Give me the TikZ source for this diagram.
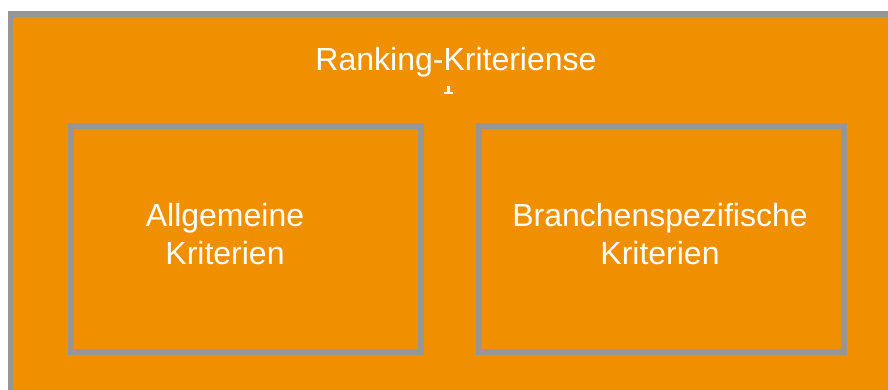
\documentclass[tikz,border=0pt]{standalone}
\usepackage{fontspec}
\setmainfont{Liberation Sans}
\definecolor{rkorange}{HTML}{F08F00}
\definecolor{rkgray}{HTML}{969696}
\begin{document}
\begin{tikzpicture}[x=1pt,y=-1pt,
  frame/.style={draw=rkgray,fill=rkorange},
  label/.style={text=white,font=\fontsize{32}{38}\selectfont,align=center,inner sep=0pt}]
\useasboundingbox (0,0) rectangle (888,389);
% outer container, running past the right and bottom edges
\draw[frame,line width=5.5] (10.5,14) rectangle (900,400);
% the two criteria boxes
\draw[frame,line width=6] (71,126) rectangle (421,352);
\draw[frame,line width=6] (479,126) rectangle (844,352);
% titles
\node[label,anchor=base] (title) at (456,70) {Ranking-Kriteriense};
\node[label] (general) at (225,234.5) {Allgemeine\\Kriterien};
\node[label] (sector) at (660,234.5) {Branchenspezifische\\Kriterien};
% small white tick below the title
\fill[white] (447,86) rectangle (450,92);
\fill[white] (444,92) rectangle (453,94);
\end{tikzpicture}
\end{document}
